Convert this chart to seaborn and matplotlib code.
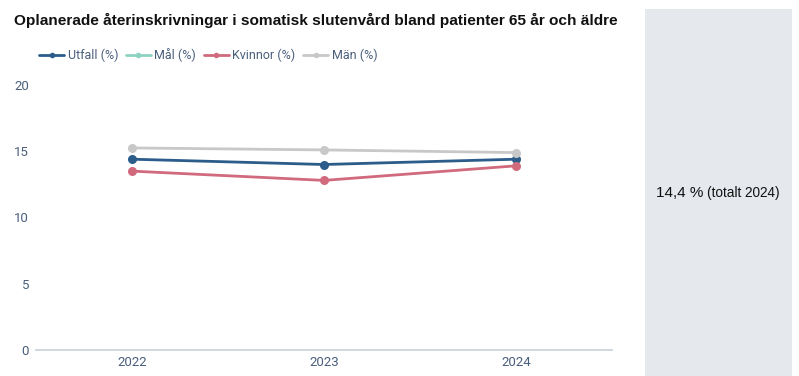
import numpy as np
import pandas as pd
import matplotlib
matplotlib.use("Agg")
import matplotlib.pyplot as plt
import seaborn as sns
from matplotlib.lines import Line2D

years = ["2022", "2023", "2024"]
utfall = [14.4, 14.0, 14.4]
mal = [np.nan, np.nan, np.nan]
kvinnor = [13.5, 12.8, 13.9]
man = [15.25, 15.1, 14.9]
series_names = ["Utfall (%)", "Mål (%)", "Kvinnor (%)", "Män (%)"]
colors = ["#2b5c8a", "#8dd3c1", "#d06a7c", "#c8c8c8"]
title = "Oplanerade återinskrivningar i somatisk slutenvård bland patienter 65 år och äldre"
side_value = "14,4 %"
side_note = "(totalt 2024)"

sns.set_theme(style="white")
plt.rcParams["font.family"] = ["Roboto", "DejaVu Sans"]

df = pd.DataFrame({
    "year": years * 4,
    "x": list(range(len(years))) * 4,
    "value": utfall + mal + kvinnor + man,
    "series": sum([[s] * len(years) for s in series_names], []),
})

fig = plt.figure(figsize=(7.99, 3.76), dpi=100)
W, H = 799, 376
ax = fig.add_axes([36 / W, (H - 350) / H, (612 - 36) / W, (350 - 85) / H])

sns.lineplot(data=df.dropna(), x="x", y="value", hue="series", hue_order=series_names,
             palette=dict(zip(series_names, colors)), marker="o", markersize=6.5,
             markeredgewidth=0, linewidth=2.0, ax=ax, legend=False)

ax.set_xlim(-0.5, len(years) - 0.5)
ax.set_ylim(0, 20)
ax.set_xticks(range(len(years)))
ax.set_xticklabels(years)
ax.set_yticks([0, 5, 10, 15, 20])
ax.set_xlabel("")
ax.set_ylabel("")
tick_color = "#4a5f7c"
ax.tick_params(axis="both", length=0, labelsize=9.5, colors=tick_color)
ax.tick_params(axis="y", pad=5)
ax.tick_params(axis="x", pad=4)
for s in ["top", "right", "left"]:
    ax.spines[s].set_visible(False)
ax.spines["bottom"].set_color("#c9d1da")
ax.spines["bottom"].set_linewidth(1.2)
ax.grid(False)

fig.text(14 / W, 1 - 20 / H, title, fontsize=11.05, fontweight="bold",
         family=["Liberation Sans", "DejaVu Sans"], color="#111111", va="center", ha="left")

handles = [Line2D([0], [0], color=c, lw=2.0, marker="o", markersize=4, markeredgewidth=0)
           for c in colors]
leg = fig.legend(handles, series_names, loc="center left", bbox_to_anchor=(39 / W, 1 - 55 / H),
                 ncol=4, frameon=False, fontsize=9, handlelength=2.0, handletextpad=0.3,
                 columnspacing=0.6, borderaxespad=0, borderpad=0)
for t in leg.get_texts():
    t.set_color(tick_color)

side = fig.add_axes([645 / W, 0, (792 - 645) / W, (H - 9) / H])
side.set_facecolor("#e5e9ee")
side.set_xticks([])
side.set_yticks([])
for s in side.spines.values():
    s.set_visible(False)
t1 = side.text(11 / 147, 1 - (193 - 9) / (H - 9), side_value, fontsize=11,
               family=["Liberation Sans", "DejaVu Sans"], color="#111111",
               va="center", ha="left", transform=side.transAxes)
fig.canvas.draw()
bb = t1.get_window_extent()
inv = side.transAxes.inverted()
x_end = inv.transform((bb.x1, bb.y0))[0]
side.text(x_end + 4 / 147, 1 - (193 - 9) / (H - 9), side_note, fontsize=9.8,
          family=["Liberation Sans", "DejaVu Sans"], color="#111111",
          va="center", ha="left", transform=side.transAxes)

fig.savefig("out.png", dpi=100)
